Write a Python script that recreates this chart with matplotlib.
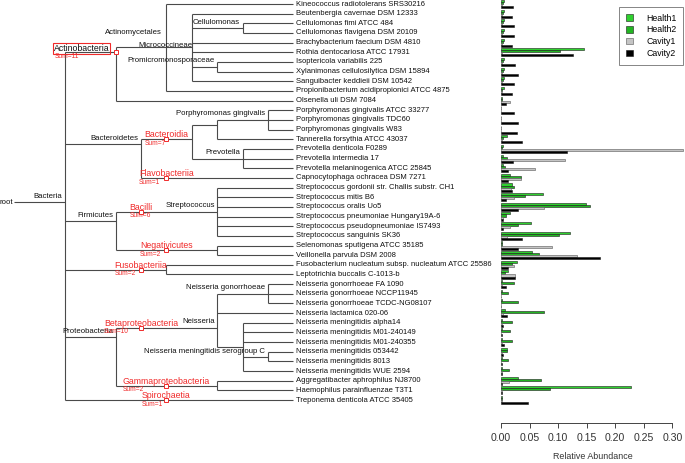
import matplotlib
matplotlib.use("Agg")
import matplotlib.pyplot as plt
import numpy as np

plt.rcParams['font.family'] = ['Liberation Sans', 'DejaVu Sans']

# leaf taxa, top to bottom
leaf_names = [
    "Kineococcus radiotolerans SRS30216",
    "Beutenbergia cavernae DSM 12333",
    "Cellulomonas fimi ATCC 484",
    "Cellulomonas flavigena DSM 20109",
    "Brachybacterium faecium DSM 4810",
    "Rothia dentocariosa ATCC 17931",
    "Isoptericola variabilis 225",
    "Xylanimonas cellulosilytica DSM 15894",
    "Sanguibacter keddieii DSM 10542",
    "Propionibacterium acidipropionici ATCC 4875",
    "Olsenella uli DSM 7084",
    "Porphyromonas gingivalis ATCC 33277",
    "Porphyromonas gingivalis TDC60",
    "Porphyromonas gingivalis W83",
    "Tannerella forsythia ATCC 43037",
    "Prevotella denticola F0289",
    "Prevotella intermedia 17",
    "Prevotella melaninogenica ATCC 25845",
    "Capnocytophaga ochracea DSM 7271",
    "Streptococcus gordonii str. Challis substr. CH1",
    "Streptococcus mitis B6",
    "Streptococcus oralis Uo5",
    "Streptococcus pneumoniae Hungary19A-6",
    "Streptococcus pseudopneumoniae IS7493",
    "Streptococcus sanguinis SK36",
    "Selenomonas sputigena ATCC 35185",
    "Veillonella parvula DSM 2008",
    "Fusobacterium nucleatum subsp. nucleatum ATCC 25586",
    "Leptotrichia buccalis C-1013-b",
    "Neisseria gonorrhoeae FA 1090",
    "Neisseria gonorrhoeae NCCP11945",
    "Neisseria gonorrhoeae TCDC-NG08107",
    "Neisseria lactamica 020-06",
    "Neisseria meningitidis alpha14",
    "Neisseria meningitidis M01-240149",
    "Neisseria meningitidis M01-240355",
    "Neisseria meningitidis 053442",
    "Neisseria meningitidis 8013",
    "Neisseria meningitidis WUE 2594",
    "Aggregatibacter aphrophilus NJ8700",
    "Haemophilus parainfluenzae T3T1",
    "Treponema denticola ATCC 35405",
]

health1 = [0.006, 0.006, 0.006, 0.006, 0.006, 0.146, 0.006, 0.006, 0.006, 0.005,
           0.001, 0.0, 0.0, 0.0, 0.010, 0.003, 0.003, 0.004, 0.016, 0.019,
           0.073, 0.148, 0.016, 0.052, 0.121, 0.002, 0.054, 0.028, 0.013, 0.002,
           0.002, 0.002, 0.007, 0.002, 0.002, 0.002, 0.011, 0.002, 0.002, 0.030,
           0.228, 0.002]
health2 = [0.003, 0.003, 0.003, 0.003, 0.003, 0.104, 0.003, 0.003, 0.003, 0.002,
           0.001, 0.0, 0.0, 0.0, 0.003, 0.001, 0.011, 0.007, 0.035, 0.022,
           0.042, 0.155, 0.009, 0.029, 0.101, 0.001, 0.067, 0.019, 0.007, 0.022,
           0.013, 0.029, 0.076, 0.019, 0.016, 0.020, 0.011, 0.013, 0.014, 0.070,
           0.086, 0.001]
cavity1 = [0.001, 0.001, 0.001, 0.001, 0.001, 0.002, 0.001, 0.001, 0.001, 0.001,
           0.016, 0.0, 0.0, 0.0, 0.001, 0.319, 0.112, 0.059, 0.035, 0.017,
           0.022, 0.076, 0.004, 0.016, 0.010, 0.089, 0.133, 0.023, 0.025, 0.001,
           0.0, 0.0, 0.004, 0.002, 0.0, 0.001, 0.001, 0.0, 0.001, 0.014,
           0.001, 0.002]
cavity2 = [0.021, 0.019, 0.022, 0.023, 0.020, 0.126, 0.025, 0.029, 0.023, 0.019,
           0.008, 0.022, 0.030, 0.028, 0.036, 0.115, 0.021, 0.013, 0.013, 0.019,
           0.008, 0.030, 0.003, 0.004, 0.036, 0.030, 0.174, 0.012, 0.025, 0.008,
           0.0, 0.0, 0.010, 0.004, 0.001, 0.005, 0.004, 0.001, 0.002, 0.001,
           0.001, 0.048]
series_names = ["Health1", "Health2", "Cavity1", "Cavity2"]
series_colors = ["#2fd12f", "#22b522", "#c4c4c4", "#000000"]
x_ticks = [0.00, 0.05, 0.10, 0.15, 0.20, 0.25, 0.30]

# tree: (label, depth, children); ints are leaf indices
tree = ("root", 0, [
    ("Bacteria", 2, [
        ("", 4, [
            ("Actinomycetales", 6, [
                0,
                ("Micrococcineae", 7, [1, ("Cellulomonas", 9, [2, 3]), 4, 5,
                                       ("Promicromonosporaceae", 8, [6, 7]), 8]),
                9]),
            10]),
        ("Bacteroidetes", 5, [
            ("", 7, [
                ("", 8, [("Porphyromonas gingivalis", 10, [11, 12, 13]), 14]),
                ("Prevotella", 9, [15, 16, 17])]),
            18]),
        ("Firmicutes", 4, [
            ("Streptococcus", 8, [19, 20, 21, 22, 23, 24]),
            ("", 8, [25, 26])]),
        ("", 6, [27, 28]),
        ("Proteobacteria", 4, [
            ("Neisseria", 8, [
                ("Neisseria gonorrhoeae", 10, [29, 30, 31]),
                32,
                ("Neisseria meningitidis serogroup C", 9,
                 [33, 34, 35, ("", 10, [36, 37]), 38])]),
            ("", 8, [39, 40])]),
        41])])

# class markers: name, sum, depth of marker, first leaf, last leaf
class_names = ["Actinobacteria", "Bacteroidia", "Flavobacteriia", "Bacilli", "Negativicutes",
               "Fusobacteriia", "Betaproteobacteria", "Gammaproteobacteria", "Spirochaetia"]
class_sums = [11, 7, 1, 6, 2, 2, 10, 2, 1]
class_depth = [4, 6, 6, 5, 6, 5, 5, 6, 6]
class_first = [0, 11, 18, 19, 25, 27, 29, 39, 41]
class_last = [10, 17, 18, 24, 26, 28, 38, 40, 41]

TIP = 11
PXX = 1 / 25.4   # depth units per pixel
PXY = 1 / 9.66   # row units per pixel
LINE = "#4a4a4a"
RED = "#f02a2a"

# label nudges in pixels (dx, dy), default below
label_shift = {"Actinomycetales": (-5, -14.5), "Micrococcineae": (1, -1.5),
               "Neisseria meningitidis serogroup C": (22, 4.6), "root": (-1, 0)}

fig = plt.figure(figsize=(6.85, 4.63), dpi=100)
ax = fig.add_axes([0, 0, 1, 1])
ax.set_xlim(-14 * PXX, 671 * PXX)
ax.set_ylim(459 * PXY, -4 * PXY)
ax.axis("off")


def leaves_of(n):
    if isinstance(n, int):
        return [n]
    out = []
    for c in n[2]:
        out += leaves_of(c)
    return out


def ypos(n):
    return float(np.mean(leaves_of(n)))


def draw(n, parent_d):
    if isinstance(n, int):
        ax.plot([parent_d, TIP], [n, n], color=LINE, lw=0.8, solid_capstyle="butt")
        ax.text(TIP + 3 * PXX, n, leaf_names[n], fontsize=5.5, ha="left", va="center",
                color="#111111")
        return
    label, d, kids = n
    y = ypos(n)
    ax.plot([parent_d, d], [y, y], color=LINE, lw=0.8, solid_capstyle="butt")
    ky = [ypos(k) for k in kids]
    ax.plot([d, d], [min(ky), max(ky)], color=LINE, lw=0.8, solid_capstyle="butt")
    for k in kids:
        draw(k, d)
    if label:
        dx, dy = label_shift.get(label, (-2.5, -6))
        ax.text(d + dx * PXX, y + dy * PXY, label, fontsize=5.6, ha="right", va="center",
                color="#111111")


draw(tree, 0)

# class labels with markers
fig.canvas.draw()
renderer = fig.canvas.get_renderer()
inv = ax.transData.inverted()
for name, s, d, a, b in zip(class_names, class_sums, class_depth, class_first, class_last):
    my = (a + b) / 2
    ax.plot([d], [my], marker="s", ms=3, mfc="white", mec=RED, mew=0.7, zorder=5)
    if name == "Actinobacteria":
        t = ax.text(d - 6 * PXX, my - 4 * PXY, name, fontsize=6.3, ha="right", va="center",
                    color="#111111",
                    bbox=dict(boxstyle="square,pad=0.08", fc="none", ec=RED, lw=0.8))
    else:
        t = ax.text(d, my - 4.5 * PXY, name, fontsize=6.3, ha="center", va="center", color=RED)
    bb = t.get_window_extent(renderer)
    left = inv.transform((bb.x0, bb.y0))[0]
    if name == "Actinobacteria":
        left += 1 * PXX
    ax.text(left, my + 4.2 * PXY, "Sum=%d" % s, fontsize=4.8, ha="left", va="center", color=RED)

# bar chart
scale = 171.3 / 0.30
axb = fig.add_axes([501 / 685, 0, 184 / 685, 1])
axb.set_xlim(0, 184 / scale)
axb.set_ylim(459 * PXY, -4 * PXY)
idx = np.arange(len(leaf_names))
h = 0.21
offsets = [-1.5 * h, -0.5 * h, 0.5 * h, 1.5 * h]
for vals, name, col, off in zip([health1, health2, cavity1, cavity2], series_names,
                                series_colors, offsets):
    edge = "#555555" if name == "Cavity1" else "#1a1a1a"
    axb.barh(idx + off, vals, height=h, color=col, edgecolor=edge, linewidth=0.4,
             label=name, clip_on=False)

for sp in ["top", "right", "left"]:
    axb.spines[sp].set_visible(False)
axb.spines["bottom"].set_position(("data", 418.7 * PXY))
axb.spines["bottom"].set_bounds(0, 0.30)
axb.spines["bottom"].set_color("#444444")
axb.spines["bottom"].set_linewidth(0.7)
axb.set_yticks([])
axb.set_xticks(x_ticks)
axb.set_xticklabels(["%.2f" % v for v in x_ticks])
axb.tick_params(axis="x", direction="out", length=3.6, width=0.7, color="#444444",
                labelsize=7.6, labelcolor="#333333", pad=3.5)
axb.set_xlabel("Relative Abundance", fontsize=6.4, color="#333333", labelpad=6.5)
axb.patch.set_alpha(0)

leg = axb.legend(loc="upper right", bbox_to_anchor=(1 - 2 / 184, 1 - 7 / 463),
                 fontsize=6.3, frameon=True, fancybox=False, edgecolor="#666666",
                 handlelength=0.8, handleheight=0.8, handletextpad=1.5,
                 labelspacing=0.32, borderpad=0.75, borderaxespad=0)
leg.get_frame().set_linewidth(0.7)

fig.savefig("out.png", dpi=100)
